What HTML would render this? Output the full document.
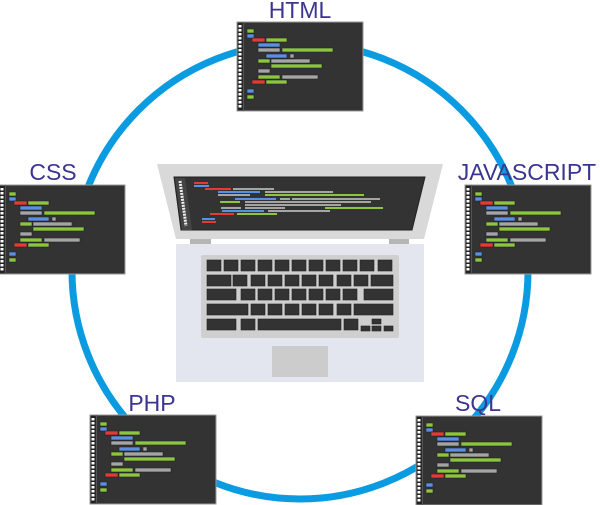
<!DOCTYPE html>
<html><head><meta charset="utf-8"><style>
html,body{margin:0;padding:0;background:#fff;width:600px;height:505px;overflow:hidden}
svg{display:block}
text{font-family:"Liberation Sans",Arial,sans-serif;font-size:23px;fill:#3b3590}
</style></head><body>
<svg width="600" height="505" viewBox="0 0 600 505" xmlns="http://www.w3.org/2000/svg">
<defs>
<g id="scr">
<rect x="0" y="0" width="126" height="89" fill="#333" stroke="#9a9a9a" stroke-width="1"/>
<rect x="0.5" y="0.5" width="5" height="88" fill="#222"/>
<line x1="3" y1="3" x2="3" y2="86" stroke="#fff" stroke-width="3" stroke-dasharray="2.5 1.5"/>
<line x1="6.5" y1="0" x2="6.5" y2="89" stroke="#555" stroke-width="1"/>
<g stroke="#222" stroke-width="0.6">
<rect x="10" y="7" width="7" height="4" fill="#8cc63f"/>
<rect x="10" y="12" width="7" height="4" fill="#5b8fe6"/>
<rect x="15" y="16" width="13" height="4" fill="#e53935"/><rect x="29" y="16" width="21" height="4" fill="#8cc63f"/>
<rect x="21" y="21" width="22" height="4" fill="#5b8fe6"/>
<rect x="21" y="26" width="22" height="4" fill="#a5a5a5"/><rect x="45" y="26" width="51" height="4" fill="#8cc63f"/>
<rect x="29" y="32" width="21" height="4" fill="#5b8fe6"/><rect x="53" y="32" width="4" height="4" fill="#a5a5a5"/>
<rect x="21" y="37" width="12" height="4" fill="#8cc63f"/><rect x="34" y="37" width="39" height="4" fill="#a5a5a5"/>
<rect x="34" y="42" width="51" height="4" fill="#8cc63f"/>
<rect x="21" y="47" width="12" height="4" fill="#a5a5a5"/>
<rect x="21" y="53" width="22" height="4" fill="#8cc63f"/><rect x="45" y="53" width="36" height="4" fill="#a5a5a5"/>
<rect x="15" y="58" width="13" height="4" fill="#e53935"/><rect x="29" y="58" width="21" height="4" fill="#8cc63f"/>
<rect x="10" y="67" width="7" height="4" fill="#5b8fe6"/>
<rect x="10" y="73" width="7" height="4" fill="#8cc63f"/>
</g>
</g>
</defs>
<circle cx="300" cy="271" r="228" fill="none" stroke="#0b9be0" stroke-width="7"/>
<polygon points="157,164 443,164 424,239 176,239" fill="#d9d9d9"/>
<polygon points="174,177 425,177 412,230 181,230" fill="#333" stroke="#222" stroke-width="1"/>
<polygon points="175,178 185,178 192,230 182,230" fill="#444"/>
<line x1="180" y1="181" x2="186" y2="226" stroke="#eee" stroke-width="3" stroke-dasharray="2 1"/>
<g>
<rect x="194" y="182" width="14" height="2" fill="#e53935"/>
<rect x="194" y="185" width="15" height="2" fill="#5b8fe6"/>
<rect x="205" y="188" width="26" height="2" fill="#e53935"/><rect x="233" y="188" width="41" height="2" fill="#a5a5a5"/>
<rect x="218" y="191" width="42" height="2" fill="#5b8fe6"/><rect x="265" y="191" width="68" height="2" fill="#a5a5a5"/>
<rect x="218" y="194" width="32" height="2" fill="#a5a5a5"/><rect x="265" y="194" width="99" height="2" fill="#8cc63f"/>
<rect x="235" y="198" width="41" height="2" fill="#5b8fe6"/><rect x="280" y="198" width="10" height="2" fill="#a5a5a5"/><rect x="292" y="198" width="88" height="2" fill="#a5a5a5"/>
<rect x="220" y="201" width="20" height="2" fill="#8cc63f"/><rect x="245" y="201" width="126" height="2" fill="#a5a5a5"/>
<rect x="245" y="204" width="96" height="2" fill="#a5a5a5"/>
<rect x="221" y="207" width="20" height="2" fill="#a5a5a5"/><rect x="245" y="207" width="40" height="2" fill="#a5a5a5"/><rect x="325" y="207" width="58" height="2" fill="#8cc63f"/>
<rect x="222" y="210" width="42" height="2" fill="#5b8fe6"/><rect x="268" y="210" width="62" height="2" fill="#a5a5a5"/>
<rect x="210" y="213" width="24" height="2" fill="#e53935"/><rect x="237" y="213" width="40" height="2" fill="#8cc63f"/>
<rect x="202" y="218" width="13" height="2" fill="#5b8fe6"/>
<rect x="202" y="221" width="14" height="2" fill="#e53935"/>
</g>
<rect x="190" y="239" width="21" height="8" fill="#b5b5b5"/>
<rect x="389" y="239" width="20" height="8" fill="#b5b5b5"/>
<rect x="176" y="244" width="248" height="138" fill="#e4e6ef"/>
<rect x="201" y="255" width="198" height="83" rx="2" fill="#cfcfcf"/>
<g fill="#333" stroke="#222" stroke-width="0.6">
<rect x="207" y="260" width="14" height="11"/><rect x="224" y="260" width="14" height="11"/><rect x="241" y="260" width="14" height="11"/><rect x="258" y="260" width="14" height="11"/><rect x="275" y="260" width="14" height="11"/><rect x="292" y="260" width="14" height="11"/><rect x="309" y="260" width="14" height="11"/><rect x="326" y="260" width="14" height="11"/><rect x="343" y="260" width="14" height="11"/><rect x="360" y="260" width="14" height="11"/><rect x="378" y="260" width="14" height="11"/>
<rect x="207" y="275" width="24" height="11"/><rect x="233" y="275" width="14" height="11"/><rect x="251" y="275" width="14" height="11"/><rect x="268" y="275" width="14" height="11"/><rect x="285" y="275" width="14" height="11"/><rect x="302" y="275" width="14" height="11"/><rect x="319" y="275" width="14" height="11"/><rect x="337" y="275" width="14" height="11"/><rect x="354" y="275" width="14" height="11"/><rect x="371" y="275" width="22" height="11"/>
<rect x="207" y="289" width="29" height="11"/><rect x="241" y="289" width="14" height="11"/><rect x="258" y="289" width="14" height="11"/><rect x="275" y="289" width="14" height="11"/><rect x="292" y="289" width="14" height="11"/><rect x="309" y="289" width="14" height="11"/><rect x="326" y="289" width="14" height="11"/><rect x="343" y="289" width="14" height="11"/><rect x="364" y="289" width="29" height="11"/>
<rect x="207" y="304" width="41" height="11"/><rect x="251" y="304" width="14" height="11"/><rect x="268" y="304" width="14" height="11"/><rect x="285" y="304" width="14" height="11"/><rect x="302" y="304" width="14" height="11"/><rect x="319" y="304" width="14" height="11"/><rect x="337" y="304" width="14" height="11"/><rect x="354" y="304" width="39" height="11"/>
<rect x="207" y="319" width="29" height="11"/><rect x="241" y="319" width="14" height="11"/><rect x="258" y="319" width="83" height="11"/><rect x="344" y="319" width="14" height="11"/>
<rect x="372" y="319" width="9" height="5"/><rect x="361" y="326" width="9" height="5"/><rect x="372" y="326" width="9" height="5"/><rect x="384" y="326" width="9" height="5"/>
</g>
<rect x="272" y="346" width="56" height="31" fill="#cccccc"/>
<use href="#scr" x="237" y="22"/>
<use href="#scr" x="-1" y="185"/>
<use href="#scr" x="465" y="185"/>
<use href="#scr" x="90" y="415"/>
<use href="#scr" x="416" y="416"/>
<text x="300" y="18" text-anchor="middle">HTML</text>
<text x="53" y="180" text-anchor="middle">CSS</text>
<text x="527" y="180" text-anchor="middle">JAVASCRIPT</text>
<text x="152" y="411" text-anchor="middle">PHP</text>
<text x="478" y="411" text-anchor="middle">SQL</text>
</svg>
</body></html>
